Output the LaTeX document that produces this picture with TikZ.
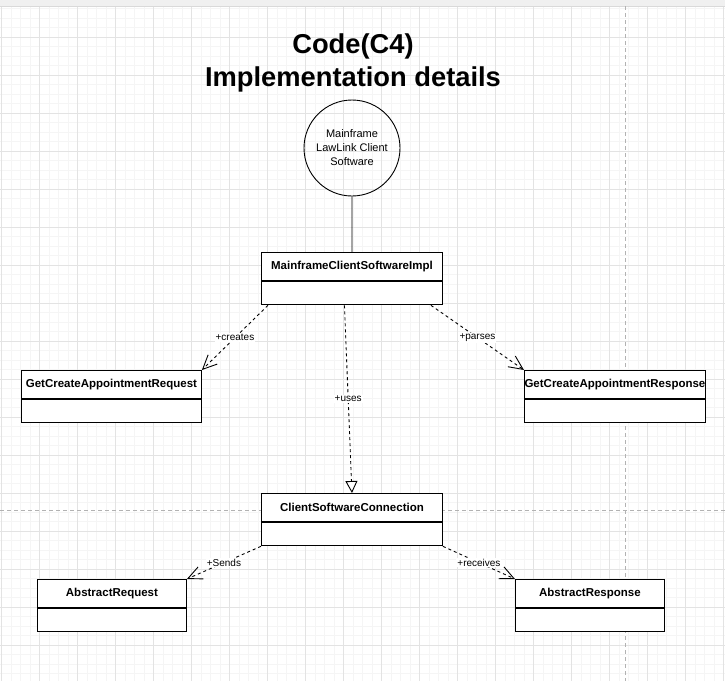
\documentclass[tikz,border=0pt]{standalone}
\usepackage{fontspec}
\setmainfont{Liberation Sans}
\usetikzlibrary{arrows.meta,positioning}

\tikzset{
  classhead/.style={draw, line width=0.9pt, fill=white, inner sep=0pt, anchor=north west,
    minimum height=28pt, font=\bfseries\fontsize{11.5}{14}\selectfont},
  classbody/.style={draw, line width=0.9pt, fill=white, inner sep=0pt, minimum height=23.5pt},
  dep/.style={line width=0.9pt, dash pattern=on 3pt off 3pt,
    -{Straight Barb[length=14pt,width=13pt,line width=0.9pt]}},
  realize/.style={line width=0.9pt, dash pattern=on 3pt off 3pt,
    -{Triangle[length=12pt,width=12pt,fill=white,line width=0.9pt]}},
  lbl/.style={fill=white, inner sep=1pt, font=\fontsize{10}{12}\selectfont},
  gridminor/.style={draw=black!4, line width=0.5pt},
  gridmajor/.style={draw=black!11, line width=0.8pt},
  pagebreak/.style={draw=black!30, line width=0.8pt, dash pattern=on 4pt off 3pt}
}

\begin{document}
\begin{tikzpicture}[x=1pt,y=-1pt]
	\useasboundingbox (0,0) rectangle (725,681);
	\fill[white] (0,0) rectangle (725,681);
	% background grid
	\begin{scope}
		\clip (0,6) rectangle (725,681);
		\foreach \gi in {0,...,76} \draw[gridminor] ({1.3+9.5*\gi},0) -- ({1.3+9.5*\gi},681);
		\foreach \gi in {0,...,72} \draw[gridminor] (0,{-1+9.5*\gi}) -- (725,{-1+9.5*\gi});
		\foreach \gi in {0,...,19} \draw[gridmajor] ({1.3+38*\gi},0) -- ({1.3+38*\gi},681);
		\foreach \gi in {0,...,18} \draw[gridmajor] (0,{-1+38*\gi}) -- (725,{-1+38*\gi});
	\end{scope}
	\fill[black!6] (0,0) rectangle (725,6);
	\draw[black!15] (0,6) -- (725,6);
	\draw[pagebreak] (625.3,6) -- (625.3,681);
	\draw[pagebreak] (0,510.5) -- (725,510.5);

	\node[font=\bfseries\fontsize{27.3}{33}\selectfont, align=center] (title) at (353,63)
		{Code(C4)\\Implementation details};
	\node[draw, circle, line width=0.9pt, minimum size=96pt, inner sep=0pt, align=center,
		font=\fontsize{11}{14}\selectfont] (sys) at (352,148) {Mainframe\\LawLink Client\\Software};

	% classes
	\node[classhead, minimum width=181pt] (implhead) at (261,252) {MainframeClientSoftwareImpl};
	\node[classbody, minimum width=181pt, below=0pt of implhead] (implbody) {};
	\node[classhead, minimum width=180pt] (reqhead) at (21,370) {GetCreateAppointmentRequest};
	\node[classbody, minimum width=180pt, below=0pt of reqhead] (reqbody) {};
	\node[classhead, minimum width=181pt] (resphead) at (524,370) {GetCreateAppointmentResponse};
	\node[classbody, minimum width=181pt, below=0pt of resphead] (respbody) {};
	\node[classhead, minimum width=181pt] (connhead) at (261,493) {ClientSoftwareConnection};
	\node[classbody, minimum width=181pt, below=0pt of connhead] (connbody) {};
	\node[classhead, minimum width=149pt] (areqhead) at (37,579) {AbstractRequest};
	\node[classbody, minimum width=149pt, below=0pt of areqhead] (areqbody) {};
	\node[classhead, minimum width=149pt] (aresphead) at (515,579) {AbstractResponse};
	\node[classbody, minimum width=149pt, below=0pt of aresphead] (arespbody) {};

	% connectors
	\draw[line width=0.9pt] (sys.south) -- (implhead.north);
	\draw[dep] ([xshift=7pt]implbody.south west) -- node[lbl]{+creates} (reqhead.north east);
	\draw[dep] ([xshift=-12pt]implbody.south east) -- node[lbl]{+parses} (resphead.north west);
	\draw[realize] ([xshift=-7.5pt]implbody.south) -- node[lbl]{+uses} (connhead.north);
	\draw[dep] (connbody.south west) -- node[lbl]{+Sends} (areqhead.north east);
	\draw[dep] (connbody.south east) -- node[lbl]{+receives} (aresphead.north west);
\end{tikzpicture}
\end{document}
